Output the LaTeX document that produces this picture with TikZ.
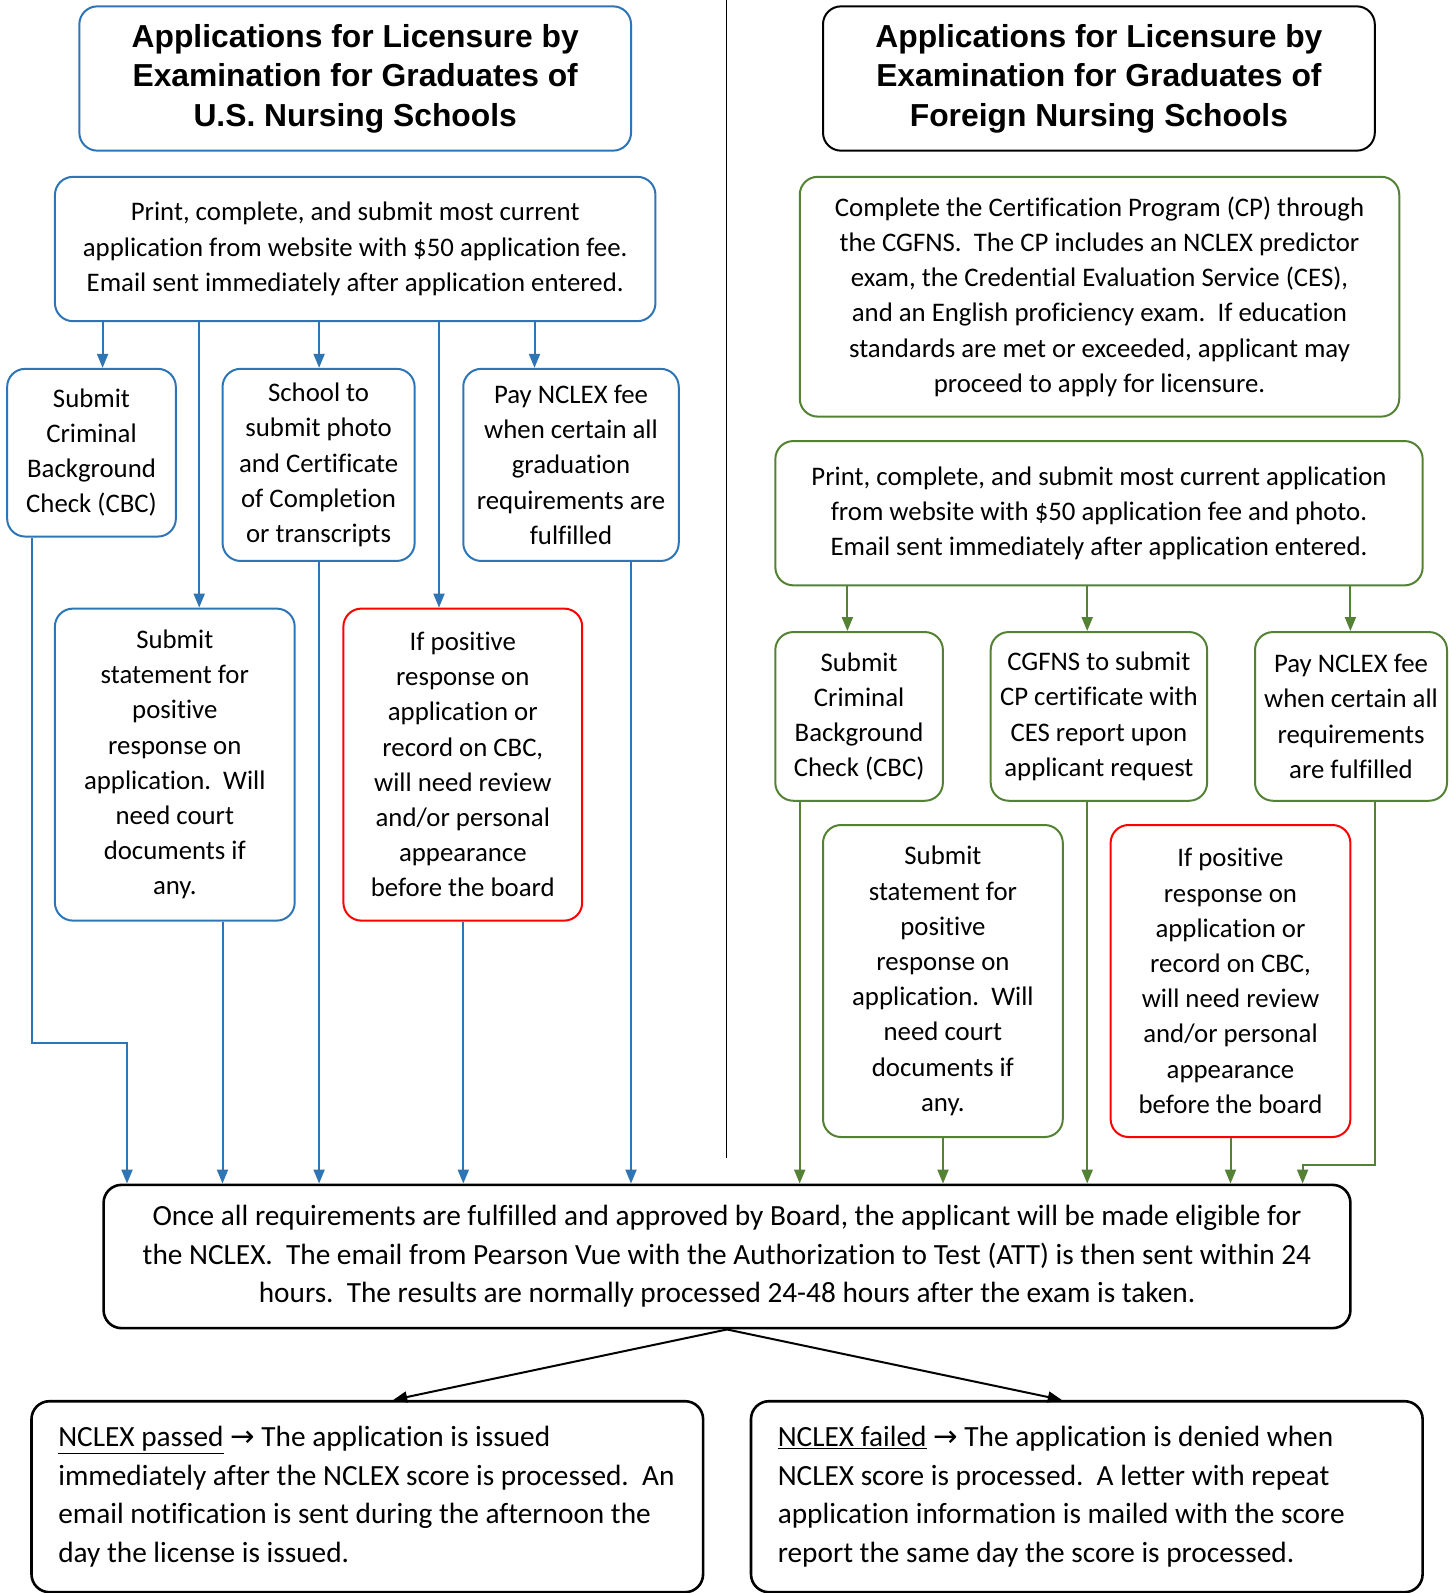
\documentclass[tikz,border=0pt]{standalone}
\usepackage{fontspec}
\setmainfont{Carlito}[Ligatures=NoCommon]
\newfontfamily\titlefont{Liberation Sans}
\newfontfamily\symfont{DejaVu Sans}
\usetikzlibrary{arrows.meta}
\definecolor{usblue}{RGB}{46,117,182}
\definecolor{fngreen}{RGB}{84,130,53}
\definecolor{revred}{RGB}{255,0,0}

\newcommand{\resline}[1]{\makebox[618pt][l]{#1}}

\tikzset{
    box/.style={draw, rounded corners=18pt, line width=2pt, align=center, inner sep=0pt,
        font=\fontsize{26.8}{35.2}\selectfont},
    usbox/.style={box, draw=usblue},
    fnbox/.style={box, draw=fngreen},
    revbox/.style={box, draw=revred},
    titlebox/.style={box, font=\titlefont\bfseries\fontsize{31.8}{39.6}\selectfont},
    endbox/.style={box, line width=2.6pt, font=\fontsize{29.3}{38.4}\selectfont},
    resbox/.style={endbox, align=left, minimum width=671.6pt, minimum height=191pt},
    barr/.style={draw=usblue, line width=2pt, -{Triangle[length=14pt,width=11pt]}},
    garr/.style={draw=fngreen, line width=2pt, -{Triangle[length=14pt,width=11pt]}},
    karr/.style={draw=black, line width=2pt, -{Triangle[length=14pt,width=11pt]}},
}

\begin{document}
\begin{tikzpicture}[x=1pt, y=-1pt]
\useasboundingbox (0,0) rectangle (1452,1593);

% divider
\draw[line width=1.6pt] (726.5,0) -- (726.5,1158);

% U.S. side
\node[titlebox, draw=usblue, minimum width=551.7pt, minimum height=144.3pt] (ustitle) at (355.2,78.5)
    {Applications for Licensure by\\Examination for Graduates of\\U.S. Nursing Schools};
\node[usbox, minimum width=600.5pt, minimum height=144.3pt] (usapp) at (355.2,249)
    {Print, complete, and submit most current\\application from website with \$50 application fee.\\Email sent immediately after application entered.};
\node[usbox, minimum width=168.7pt, minimum height=167.7pt] (uscbc) at (91.5,452.7)
    {Submit\\Criminal\\Background\\Check (CBC)};
\node[usbox, minimum width=192.1pt, minimum height=192.1pt] (usschool) at (318.6,464.9)
    {School to\\submit photo\\and Certificate\\of Completion\\or transcripts};
\node[usbox, minimum width=215.5pt, minimum height=192.1pt] (uspay) at (571,464.9)
    {Pay NCLEX fee\\when certain all\\graduation\\requirements are\\fulfilled};
\node[usbox, minimum width=239.8pt, minimum height=312pt] (usstmt) at (174.8,764.6)
    {Submit\\statement for\\positive\\response on\\application.\ \ Will\\need court\\documents if\\any.};
\node[revbox, minimum width=238.8pt, minimum height=312pt] (usreview) at (462.8,764.6)
    {If positive\\response on\\application or\\record on CBC,\\will need review\\and/or personal\\appearance\\before the board};

% foreign side
\node[titlebox, minimum width=551.8pt, minimum height=144.3pt] (fntitle) at (1098.9,78.5)
    {Applications for Licensure by\\Examination for Graduates of\\Foreign Nursing Schools};
\node[fnbox, minimum width=599.5pt, minimum height=239.8pt] (fncp) at (1099.5,296.7)
    {Complete the Certification Program (CP) through\\the CGFNS.\ \ The CP includes an NCLEX predictor\\exam, the Credential Evaluation Service (CES),\\and an English proficiency exam.\ \ If education\\standards are met or exceeded, applicant may\\proceed to apply for licensure.};
\node[fnbox, minimum width=647.3pt, minimum height=144.3pt] (fnapp) at (1099,513.2)
    {Print, complete, and submit most current application\\from website with \$50 application fee and photo.\\Email sent immediately after application entered.};
\node[fnbox, minimum width=167.6pt, minimum height=168.7pt] (fncbc) at (859.1,716.4)
    {Submit\\Criminal\\Background\\Check (CBC)};
\node[fnbox, minimum width=216.4pt, minimum height=168.7pt] (fncgfns) at (1098.9,716.4)
    {CGFNS to submit\\CP certificate with\\CES report upon\\applicant request};
\node[fnbox, minimum width=192pt, minimum height=168.7pt] (fnpay) at (1351,716.4)
    {Pay NCLEX fee\\when certain all\\requirements\\are fulfilled};
\node[fnbox, minimum width=239.8pt, minimum height=312pt] (fnstmt) at (942.9,981)
    {Submit\\statement for\\positive\\response on\\application.\ \ Will\\need court\\documents if\\any.};
\node[revbox, minimum width=239.8pt, minimum height=312pt] (fnreview) at (1230.5,981)
    {If positive\\response on\\application or\\record on CBC,\\will need review\\and/or personal\\appearance\\before the board};

% common part
\node[endbox, minimum width=1246.8pt, minimum height=143.3pt] (elig) at (727,1256.5)
    {Once all requirements are fulfilled and approved by Board, the applicant will be made eligible for\\the NCLEX.\ \ The email from Pearson Vue with the Authorization to Test (ATT) is then sent within 24\\hours.\ \ The results are normally processed 24-48 hours after the exam is taken.};
\node[resbox] (passed) at (367.3,1496.7)
    {\resline{\underline{NCLEX passed} {\symfont →} The application is issued}\\immediately after the NCLEX score is processed.\ \ An\\email notification is sent during the afternoon the\\day the license is issued.};
\node[resbox] (failed) at (1086.8,1496.7)
    {\resline{\underline{NCLEX failed} {\symfont →} The application is denied when}\\NCLEX score is processed.\ \ A letter with repeat\\application information is mailed with the score\\report the same day the score is processed.};

% blue connectors
\draw[barr] (102.6,0 |- usapp.south) -- (102.6,0 |- uscbc.north);
\draw[barr] (199.2,0 |- usapp.south) -- (199.2,0 |- usstmt.north);
\draw[barr] (319.1,0 |- usapp.south) -- (319.1,0 |- usschool.north);
\draw[barr] (439,0 |- usapp.south) -- (439,0 |- usreview.north);
\draw[barr] (534.5,0 |- usapp.south) -- (534.5,0 |- uspay.north);
\draw[barr] (31.5,0 |- uscbc.south) |- (127,1042.5) -- (127,0 |- elig.north);
\draw[barr] (222.5,0 |- usstmt.south) -- (222.5,0 |- elig.north);
\draw[barr] (319.1,0 |- usschool.south) -- (319.1,0 |- elig.north);
\draw[barr] (463.3,0 |- usreview.south) -- (463.3,0 |- elig.north);
\draw[barr] (631,0 |- uspay.south) -- (631,0 |- elig.north);

% green connectors
\draw[garr] (847.4,0 |- fnapp.south) -- (847.4,0 |- fncbc.north);
\draw[garr] (1087.2,0 |- fnapp.south) -- (1087.2,0 |- fncgfns.north);
\draw[garr] (1350.4,0 |- fnapp.south) -- (1350.4,0 |- fnpay.north);
\draw[garr] (799.7,0 |- fncbc.south) -- (799.7,0 |- elig.north);
\draw[garr] (943,0 |- fnstmt.south) -- (943,0 |- elig.north);
\draw[garr] (1087.2,0 |- fncgfns.south) -- (1087.2,0 |- elig.north);
\draw[garr] (1230.5,0 |- fnreview.south) -- (1230.5,0 |- elig.north);
\draw[garr] (1374.8,0 |- fnpay.south) |- (1302.6,1164.5) -- (1302.6,0 |- elig.north);

% results
\draw[karr] (elig.south) -- (393.2,0 |- passed.north);
\draw[karr] (elig.south) -- (1061.8,0 |- failed.north);
\end{tikzpicture}
\end{document}
